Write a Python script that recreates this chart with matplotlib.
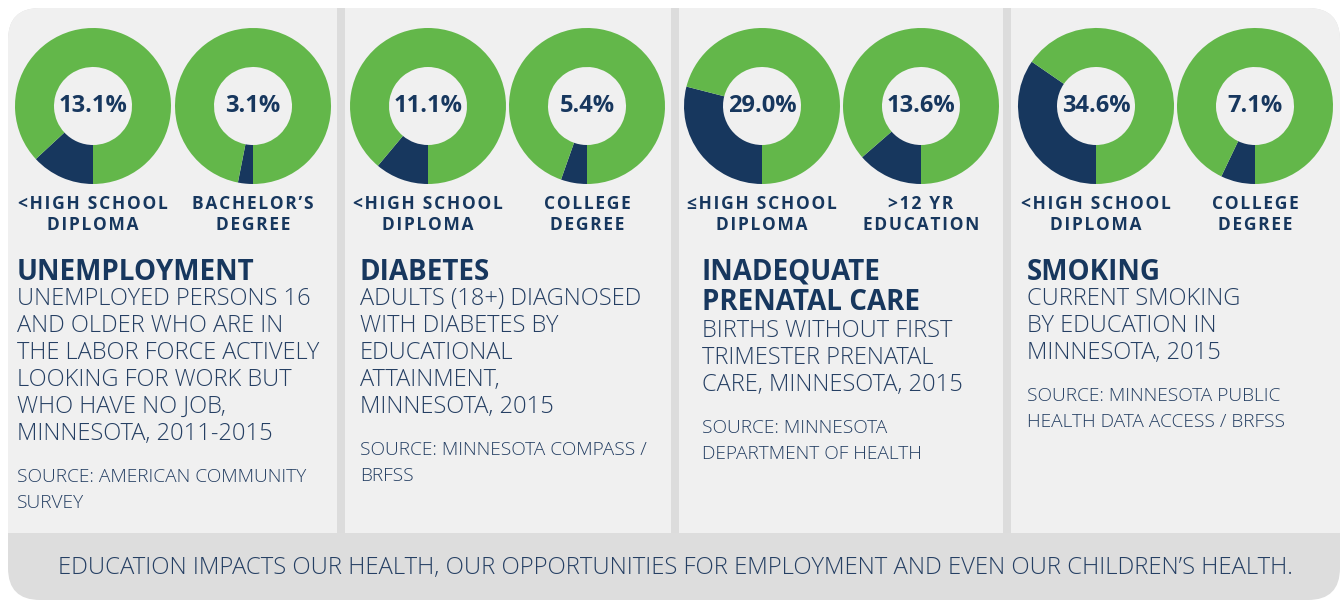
import matplotlib
matplotlib.use("Agg")
import matplotlib.pyplot as plt
from matplotlib.patches import FancyBboxPatch, Rectangle

# ---- data ----
values = [13.1, 3.1, 11.1, 5.4, 29.0, 13.6, 34.6, 7.1]
donut_labels = [
    ["<HIGH SCHOOL", "DIPLOMA"], ["BACHELOR\u2019S", "DEGREE"],
    ["<HIGH SCHOOL", "DIPLOMA"], ["COLLEGE", "DEGREE"],
    ["\u2264HIGH SCHOOL", "DIPLOMA"], [">12 YR", "EDUCATION"],
    ["<HIGH SCHOOL", "DIPLOMA"], ["COLLEGE", "DEGREE"],
]
titles = [
    ["UNEMPLOYMENT"],
    ["DIABETES"],
    ["INADEQUATE", "PRENATAL CARE"],
    ["SMOKING"],
]
descriptions = [
    ["UNEMPLOYED PERSONS 16", "AND OLDER WHO ARE IN", "THE LABOR FORCE ACTIVELY",
     "LOOKING FOR WORK BUT", "WHO HAVE NO JOB,", "MINNESOTA, 2011-2015"],
    ["ADULTS (18+) DIAGNOSED", "WITH DIABETES BY", "EDUCATIONAL",
     "ATTAINMENT,", "MINNESOTA, 2015"],
    ["BIRTHS WITHOUT FIRST", "TRIMESTER PRENATAL", "CARE, MINNESOTA, 2015"],
    ["CURRENT SMOKING", "BY EDUCATION IN", "MINNESOTA, 2015"],
]
sources = [
    ["SOURCE: AMERICAN COMMUNITY", "SURVEY"],
    ["SOURCE: MINNESOTA COMPASS /", "BRFSS"],
    ["SOURCE: MINNESOTA", "DEPARTMENT OF HEALTH"],
    ["SOURCE: MINNESOTA PUBLIC", "HEALTH DATA ACCESS / BRFSS"],
]
footer = ("EDUCATION IMPACTS OUR HEALTH, OUR OPPORTUNITIES FOR EMPLOYMENT "
          "AND EVEN OUR CHILDREN\u2019S HEALTH.")

GREEN = "#63b74a"
NAVY = "#17375e"
TEXT = "#253f63"
PANEL = "#f0f0f0"
BANNER = "#dddddd"
FONT = ["Open Sans", "DejaVu Sans"]

W, H = 1344, 604
fig = plt.figure(figsize=(W / 100, H / 100), dpi=100)
fig.patch.set_facecolor("white")

bg = fig.add_axes([0, 0, 1, 1])
bg.set_xlim(0, W)
bg.set_ylim(H, 0)
bg.axis("off")

# background shapes
bg.add_patch(FancyBboxPatch((8, 8), W - 12, H - 12,
                            boxstyle="round,pad=0,rounding_size=32",
                            fc=BANNER, ec="none"))
bg.add_patch(FancyBboxPatch((8, 8), W - 12, 525,
                            boxstyle="round,pad=0,rounding_size=32",
                            fc=PANEL, ec="none"))
bg.add_patch(Rectangle((8, 480), W - 12, 53, fc=PANEL, ec="none"))
for x0 in [337, 671, 1003]:
    bg.add_patch(Rectangle((x0, 8), 8, 525, fc="#dcdcdc", ec="none"))

# donuts
centers_x = [93, 253, 428, 587, 762, 921, 1096, 1255]
cy, r = 106, 78
for v, cx, lab in zip(values, centers_x, donut_labels):
    ax = fig.add_axes([(cx - r) / W, 1 - (cy + r) / H, 2 * r / W, 2 * r / H])
    ax.pie([v, 100 - v], colors=[NAVY, GREEN], startangle=270,
           counterclock=False, radius=1,
           wedgeprops=dict(width=0.5, edgecolor="none"))
    ax.set_xlim(-1, 1)
    ax.set_ylim(-1, 1)
    ax.set_aspect("equal")
    ax.text(0, 0, f"{v:.1f}%", ha="center", va="center", fontsize=17,
            fontweight="bold", color=NAVY, family=FONT)
    for i, line in enumerate(lab):
        spaced = "\u200a".join(line)
        bg.text(cx, 204 + i * 21, spaced, ha="center", va="center",
                fontsize=12.5, fontweight="bold", color=NAVY, family=FONT)

# panel texts
panel_x = [17, 360, 702, 1027]
for px, t, d, s in zip(panel_x, titles, descriptions, sources):
    y = 272
    for line in t:
        bg.text(px, y, line, ha="left", va="center", fontsize=20,
                fontweight="bold", color=NAVY, family=FONT)
        y += 30
    y -= 3 if len(t) == 1 else 1
    for line in d:
        bg.text(px, y, line, ha="left", va="center", fontsize=17,
                fontweight="light", color=TEXT, family=FONT)
        y += 27
    y += 16
    for line in s:
        bg.text(px, y, line, ha="left", va="center", fontsize=13.8,
                fontweight="light", color=TEXT, family=FONT)
        y += 26

bg.text(W / 2 + 3, 568, footer, ha="center", va="center", fontsize=17.2,
        fontweight="light", color=TEXT, family=FONT)

fig.savefig("out.png", dpi=100, facecolor="white")
